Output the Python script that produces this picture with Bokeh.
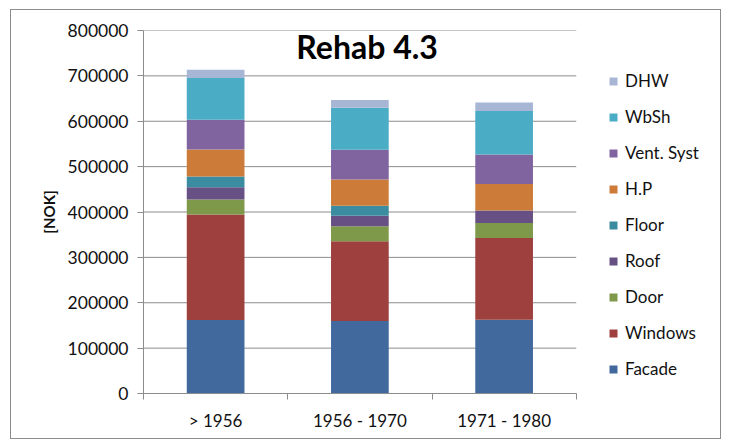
from bokeh.plotting import figure
from bokeh.models import (Range1d, FixedTicker, Legend, LegendItem, Label,
                          BasicTickFormatter, ColumnDataSource)
from bokeh.embed import file_html
from bokeh.resources import INLINE

categories = ["> 1956", "1956 - 1970", "1971 - 1980"]
series_names = ["Facade", "Windows", "Door", "Roof", "Floor", "H.P", "Vent. Syst", "WbSh", "DHW"]
facade = [162000, 160000, 162500]
windows = [232500, 175500, 180000]
door = [33000, 33000, 33000]
roof = [27000, 23500, 28000]
floor = [23500, 21500, 0]
hp = [60000, 58000, 58000]
vent = [65500, 65500, 65000]
wbsh = [92000, 93000, 96000]
dhw = [18000, 17000, 19000]
y_ticks = [0, 100000, 200000, 300000, 400000, 500000, 600000, 700000, 800000]
colors = ["#41699E", "#9E403E", "#7E9949", "#675184", "#3C8CA1",
          "#CC7B38", "#8064A0", "#4BACC6", "#A8B6D6"]

FONT = "Lato"
N = len(categories)

xs = [i + 0.5 for i in range(N)]
data = {"x": xs}
for name, vals in zip(series_names, [facade, windows, door, roof, floor, hp, vent, wbsh, dhw]):
    data[name] = vals
source = ColumnDataSource(data)

# the frame extends to the right so that the legend (inside the frame) is not clipped
p = figure(width=711, height=430, output_backend="svg", toolbar_location=None,
           x_range=Range1d(0, N + 1), y_range=Range1d(y_ticks[0], y_ticks[-1]),
           min_border_left=132, min_border_right=2, min_border_top=20, min_border_bottom=47)
p.styles = {"border": "1px solid #8c8c8c", "margin-left": "10px", "margin-top": "9px"}
p.outline_line_color = None

# horizontal grid lines spanning only the category area
p.segment(x0=[0] * len(y_ticks), x1=[N] * len(y_ticks), y0=y_ticks, y1=y_ticks,
          line_color="#8c8c8c", line_width=1)

renderers = p.vbar_stack(series_names, x="x", width=0.4, source=source,
                         color=colors, line_color=None)

# axes
p.yaxis.ticker = FixedTicker(ticks=y_ticks)
p.yaxis.formatter = BasicTickFormatter(use_scientific=False)
p.yaxis.axis_line_color = "#8c8c8c"
p.yaxis.major_tick_line_color = "#8c8c8c"
p.yaxis.major_tick_out = 6
p.yaxis.major_tick_in = 0
p.yaxis.minor_tick_line_color = None
p.yaxis.major_label_text_font = FONT
p.yaxis.major_label_text_font_size = "17.5px"
p.yaxis.major_label_text_color = "#111111"
p.yaxis.major_label_standoff = 9
p.yaxis.axis_label = "[NOK]"
p.yaxis.axis_label_text_font = FONT
p.yaxis.axis_label_text_font_style = "bold"
p.yaxis.axis_label_text_font_size = "15px"
p.yaxis.axis_label_text_color = "#111111"
p.yaxis.axis_label_standoff = 7

p.xaxis.bounds = (0, N)
p.xaxis.ticker = FixedTicker(ticks=xs, minor_ticks=list(range(N + 1)))
p.xaxis.major_label_overrides = {x: c for x, c in zip(xs, categories)}
p.xaxis.axis_line_color = "#8c8c8c"
p.xaxis.major_tick_line_color = None
p.xaxis.minor_tick_line_color = "#8c8c8c"
p.xaxis.minor_tick_out = 6
p.xaxis.minor_tick_in = 0
p.xaxis.major_label_text_font = FONT
p.xaxis.major_label_text_font_size = "17px"
p.xaxis.major_label_text_color = "#111111"
p.xaxis.major_label_standoff = 10

p.xgrid.grid_line_color = None
p.ygrid.grid_line_color = None

# title inside the plot
title = Label(x=1.55, y=765000, text="Rehab 4.3", text_font=FONT,
              text_font_style="bold", text_font_size="32px", text_align="center",
              text_baseline="middle", text_color="#000000")
p.add_layout(title)

items = [LegendItem(label=n, renderers=[r]) for n, r in zip(series_names, renderers)][::-1]
legend = Legend(items=items, location=(465, 14), padding=0, margin=0,
                border_line_color=None, background_fill_alpha=0,
                glyph_width=10, glyph_height=10, label_height=20, spacing=15,
                label_standoff=7, label_text_font=FONT, label_text_font_size="17px",
                label_text_color="#111111")
p.add_layout(legend)

open("out.html", "w").write(file_html(p, INLINE))
